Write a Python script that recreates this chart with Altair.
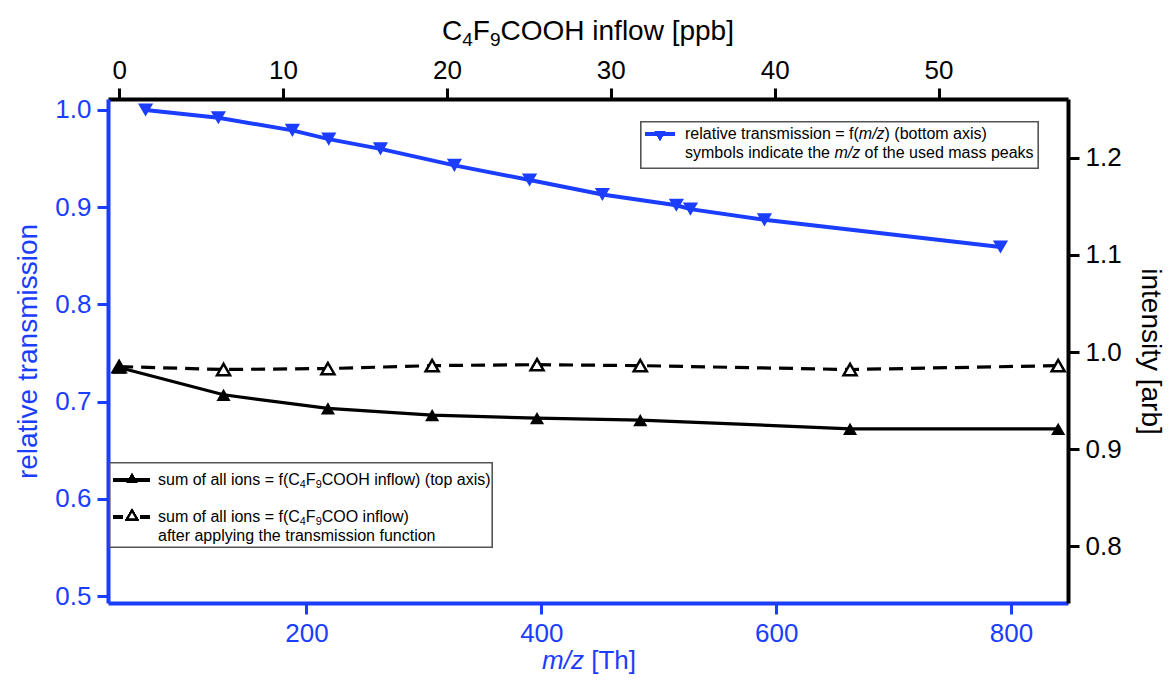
import altair as alt
import pandas as pd

BLUE = "#1a3dff"
FONT = "Liberation Sans"

# ---- data ----
# relative transmission vs m/z (bottom / left axes)
mz = [63, 125, 188, 219, 263, 326, 390, 452, 515, 527, 590, 791]
rel_trans = [1.000, 0.992, 0.979, 0.970, 0.960, 0.943, 0.928, 0.913, 0.902, 0.898, 0.887, 0.859]

# sum of all ions vs C4F9COOH inflow (top / right axes)
inflow = [0.0, 6.37, 12.74, 19.1, 25.5, 31.8, 44.6, 57.3]
sum_ions = [0.984, 0.956, 0.942, 0.935, 0.932, 0.930, 0.921, 0.921]
sum_ions_corr = [0.985, 0.982, 0.983, 0.986, 0.987, 0.986, 0.982, 0.986]

mz_ticks = [200, 400, 600, 800]
rel_ticks = [0.5, 0.6, 0.7, 0.8, 0.9, 1.0]
inflow_ticks = [0, 10, 20, 30, 40, 50]
int_ticks = [0.8, 0.9, 1.0, 1.1, 1.2]

MZ_DOMAIN = [31, 848.5]
REL_DOMAIN = [0.4928, 1.0113]
INF_DOMAIN = [-0.68, 57.9]
INT_DOMAIN = [0.7418, 1.2603]

W, H = 960, 504

blue_df = pd.DataFrame({"mz": mz, "rel": rel_trans})
black_df = pd.DataFrame({"inflow": inflow, "solid": sum_ions, "corr": sum_ions_corr})

# ---- axes ----
x_mz = alt.X("mz:Q", scale=alt.Scale(domain=MZ_DOMAIN, nice=False, zero=False),
             axis=alt.Axis(orient="bottom", values=mz_ticks, format="d", title=None, grid=False,
                           domainColor=BLUE, domainWidth=4, tickColor=BLUE, tickWidth=3, tickSize=11,
                           labelColor=BLUE, labelFont=FONT, labelFontSize=26, labelPadding=6,
                           labelFlush=False))
y_rel = alt.Y("rel:Q", scale=alt.Scale(domain=REL_DOMAIN, nice=False, zero=False),
              axis=alt.Axis(orient="left", values=rel_ticks, format=".1f", title="relative transmission",
                            titleColor=BLUE, titleFont=FONT, titleFontSize=28, titleFontWeight="normal",
                            titlePadding=12, grid=False,
                            domainColor=BLUE, domainWidth=4, tickColor=BLUE, tickWidth=3, tickSize=11,
                            labelColor=BLUE, labelFont=FONT, labelFontSize=26, labelPadding=6,
                            labelFlush=False))

def x_inf():
    return alt.X("inflow:Q", scale=alt.Scale(domain=INF_DOMAIN, nice=False, zero=False),
                 axis=alt.Axis(orient="top", values=inflow_ticks, format="d", title=None, grid=False,
                               domainColor="black", domainWidth=4, tickColor="black", tickWidth=3,
                               tickSize=11, labelColor="black", labelFont=FONT, labelFontSize=26,
                               labelPadding=5, labelFlush=False))

def y_int(field):
    return alt.Y(field + ":Q", scale=alt.Scale(domain=INT_DOMAIN, nice=False, zero=False),
                 axis=alt.Axis(orient="right", values=int_ticks, format=".1f", title="intensity [arb]",
                               titleColor="black", titleFont=FONT, titleFontSize=28,
                               titleFontWeight="normal", titlePadding=14, grid=False,
                               domainColor="black", domainWidth=4, tickColor="black", tickWidth=3,
                               tickSize=11, labelColor="black", labelFont=FONT, labelFontSize=26,
                               labelPadding=6, labelFlush=False))

blue_line = alt.Chart(blue_df).mark_line(color=BLUE, strokeWidth=4).encode(x=x_mz, y=y_rel)
blue_pts = alt.Chart(blue_df).mark_point(shape="triangle-down", filled=True, color=BLUE,
                                         size=230, opacity=1).encode(x=x_mz, y=y_rel)
blue_layer = alt.layer(blue_line, blue_pts)

dash_line = alt.Chart(black_df).mark_line(color="black", strokeWidth=3.2, strokeDash=[14, 8]).encode(
    x=x_inf(), y=y_int("corr"))
dash_pts = alt.Chart(black_df).mark_point(shape="triangle-up", filled=True, fill="white",
                                          stroke="black", strokeWidth=2.5, size=170, opacity=1).encode(
    x=x_inf(), y=y_int("corr"))
solid_line = alt.Chart(black_df).mark_line(color="black", strokeWidth=3.2).encode(
    x=x_inf(), y=y_int("solid"))
solid_pts = alt.Chart(black_df).mark_point(shape="triangle-up", filled=True, color="black",
                                           size=200, opacity=1).encode(x=x_inf(), y=y_int("solid"))
black_layer = alt.layer(dash_line, dash_pts, solid_line, solid_pts)

# ---- text annotations (titles with sub/italic, legends) ----
AW = {" ": 278, "(": 333, ")": 333, "[": 278, "]": 278, "=": 584, "/": 278, ".": 278,
      "a": 556, "b": 556, "c": 500, "d": 556, "e": 556, "f": 278, "g": 556, "h": 556, "i": 222,
      "j": 222, "k": 500, "l": 222, "m": 833, "n": 556, "o": 556, "p": 556, "q": 556, "r": 333,
      "s": 500, "t": 278, "u": 556, "v": 500, "w": 722, "x": 500, "y": 500, "z": 500,
      "C": 722, "F": 611, "H": 722, "O": 778, "T": 611}


def tw(s, size):
    return sum(AW.get(c, 556) for c in s) * size / 1000.0


rows = []


def add_runs(parts, x, y, size, color, align="left"):
    sizes = [size * 0.68 if k == "sub" else size for _, k in parts]
    total = sum(tw(t, s) for (t, _), s in zip(parts, sizes))
    if align == "center":
        x = x - total / 2.0
    for (t, k), s in zip(parts, sizes):
        yy = y + size * 0.3 if k == "sub" else y
        lead = len(t) - len(t.lstrip(" "))
        rows.append(dict(px=x + tw(" " * lead, s), py=yy, text=t.strip(" "), kind=k, fs=s, col=color))
        x += tw(t, s)


# top axis title
add_runs([("C", "n"), ("4", "sub"), ("F", "n"), ("9", "sub"), ("COOH inflow [ppb]", "n")],
         480, -67, 28, "black", align="center")
# bottom axis title
add_runs([("m/z", "it"), (" [Th]", "n")], 481, 562, 26, BLUE, align="center")
# blue legend
add_runs([("relative transmission = f(", "n"), ("m/z", "it"), (") (bottom axis)", "n")],
         577, 35, 16, "black")
add_runs([("symbols indicate the ", "n"), ("m/z", "it"), (" of the used mass peaks", "n")],
         577, 54, 16, "black")
# black legend
add_runs([("sum of all ions = f(C", "n"), ("4", "sub"), ("F", "n"), ("9", "sub"),
          ("COOH inflow) (top axis)", "n")], 50, 381, 16, "black")
add_runs([("sum of all ions = f(C", "n"), ("4", "sub"), ("F", "n"), ("9", "sub"),
          ("COO inflow)", "n")], 50, 418, 16, "black")
add_runs([("after applying the transmission function", "n")], 50, 437, 16, "black")

ann = pd.DataFrame(rows)


def txt_layer(kind, style):
    return alt.Chart(ann).transform_filter(alt.datum.kind == kind).mark_text(
        align="left", baseline="middle", font=FONT, fontStyle=style).encode(
        x=alt.X("px:Q", scale=None, axis=None),
        y=alt.Y("py:Q", scale=None, axis=None),
        text="text:N",
        size=alt.Size("fs:Q", scale=None, legend=None),
        color=alt.Color("col:N", scale=None, legend=None))


txt_layers = [txt_layer("n", "normal"), txt_layer("sub", "normal"), txt_layer("it", "italic")]

# legend boxes and symbols
box_blue = alt.Chart(blue_df).mark_rect(fill="white", stroke="#555555", strokeWidth=1.2).encode(
    x=alt.value(533), x2=alt.value(930), y=alt.value(23), y2=alt.value(69))
box_black = alt.Chart(blue_df).mark_rect(fill="white", stroke="#555555", strokeWidth=1.2).encode(
    x=alt.value(2), x2=alt.value(384), y=alt.value(364), y2=alt.value(448))
sym_blue_line = alt.Chart(blue_df).mark_rule(color=BLUE, strokeWidth=4).encode(
    x=alt.value(537), x2=alt.value(567), y=alt.value(35))
sym_blue_pt = alt.Chart(blue_df).mark_point(shape="triangle-down", filled=True, color=BLUE,
                                            size=110, opacity=1).encode(x=alt.value(552), y=alt.value(37))
sym_solid_line = alt.Chart(blue_df).mark_rule(color="black", strokeWidth=3).encode(
    x=alt.value(5), x2=alt.value(42), y=alt.value(381))
sym_solid_pt = alt.Chart(blue_df).mark_point(shape="triangle-up", filled=True, color="black",
                                             size=110, opacity=1).encode(x=alt.value(24), y=alt.value(379))
sym_dash_line = alt.Chart(blue_df).mark_rule(color="black", strokeWidth=3, strokeDash=[10, 17]).encode(
    x=alt.value(5), x2=alt.value(42), y=alt.value(418))
sym_dash_pt = alt.Chart(blue_df).mark_point(shape="triangle-up", filled=True, fill="white", stroke="black",
                                            strokeWidth=2, size=100, opacity=1).encode(
    x=alt.value(24), y=alt.value(416))

chart = alt.layer(
    blue_layer, black_layer,
    box_blue, box_black,
    sym_blue_line, sym_blue_pt, sym_solid_line, sym_solid_pt, sym_dash_line, sym_dash_pt,
    *txt_layers
).resolve_scale(x="independent", y="independent").properties(
    width=W, height=H,
    autosize=alt.AutoSizeParams(type="none"),
    padding={"left": 100, "top": 91, "right": 98, "bottom": 73},
).configure_view(stroke=None)

chart.save("out.html", embed_options={"renderer": "svg", "actions": False})
